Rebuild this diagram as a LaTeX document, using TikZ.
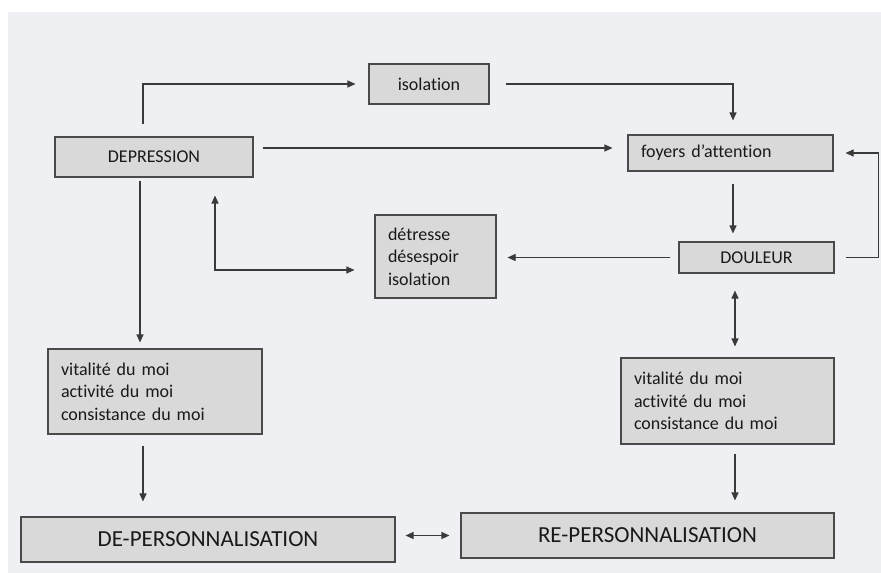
\documentclass[tikz,border=0pt]{standalone}
\usepackage{fontspec}
\setmainfont{Carlito}[Ligatures={TeX,NoCommon}]
\usetikzlibrary{arrows.meta,positioning,calc}
\definecolor{paper}{HTML}{EEF0F3}
\definecolor{boxfill}{HTML}{D9D9D9}
\definecolor{boxline}{HTML}{4A4A4A}
\definecolor{arrline}{HTML}{3A3A3A}

\begin{document}
\begin{tikzpicture}[x=1pt,y=-1pt,
  box/.style={draw=boxline,fill=boxfill,line width=1.1pt,inner sep=0pt,text=black!90,font=\fontsize{18}{22.5}\selectfont},
  lbox/.style={box,align=left,inner xsep=13pt},
  bigbox/.style={box,font=\fontsize{23}{28}\selectfont},
  arr/.style={draw=arrline,line width=1.1pt,-{Triangle[length=8pt,width=7pt]}},
  darr/.style={arr,{Triangle[length=8pt,width=7pt]}-{Triangle[length=8pt,width=7pt]}}]
\useasboundingbox (0,0) rectangle (881,573);
\fill[paper] (8,12) rectangle (881,573);

\node[box,minimum width=198pt,minimum height=40pt] (dep) at (154,157) {DEPRESSION};
\node[box,minimum width=120pt,minimum height=40pt] (iso) at (429,84) {isolation};
\node[lbox,text width=179pt,minimum height=36pt] (foy) at (730.5,153) {foyers d’attention};
\node[box,minimum width=155pt,minimum height=31pt] (dou) at (756.5,257.5) {DOULEUR};
\node[lbox,text width=95pt,minimum height=83pt] (det) at (435.5,256.5) {détresse\\désespoir\\isolation};
\node[lbox,text width=188pt,minimum height=85pt] (vitl) at (155,391.5) {vitalité du moi\\activité du moi\\consistance du moi};
\node[lbox,text width=187pt,minimum height=86pt] (vitr) at (727.5,401) {vitalité du moi\\activité du moi\\consistance du moi};
\node[bigbox,minimum width=374pt,minimum height=45pt] (depers) at (208,539.5) {DE-PERSONNALISATION};
\node[bigbox,minimum width=373pt,minimum height=45pt] (repers) at (647.5,535.5) {RE-PERSONNALISATION};

\draw[arr,shorten <=12pt,shorten >=13pt] ([xshift=-11pt]dep.north) |- (iso.west);
\draw[arr,shorten <=16pt,shorten >=14pt] (iso.east) -| ([xshift=2.5pt]foy.north);
\draw[arr,shorten <=9pt,shorten >=15pt] ([yshift=9pt]dep.east) -- ([yshift=9pt]dep.east -| foy.west);
\draw[arr,shorten <=12pt,shorten >=8pt] ([xshift=2.5pt]foy.south) -- ([xshift=2.5pt]foy.south |- dou.north);
\draw[arr,shorten <=11pt,shorten >=12pt] (dou.east) -- ++(44,0) |- (foy.east);
\draw[arr,shorten <=8pt,shorten >=11pt] (dou.west) -- (dou.west -| det.east);
\draw[darr,shorten <=20pt,shorten >=18pt] ([yshift=-13.5pt]det.west) -| ([xshift=61pt]dep.south);
\draw[arr,shorten <=3pt,shorten >=6pt] ([xshift=-14pt]dep.south) -- ([xshift=-14pt]dep.south |- vitl.north);
\draw[darr,shorten <=17pt,shorten >=11pt] ([xshift=-21.5pt]dou.south) -- ([xshift=-21.5pt]dou.south |- vitr.north);
\draw[arr,shorten <=11pt,shorten >=15pt] ([xshift=-12pt]vitl.south) -- ([xshift=-12pt]vitl.south |- depers.north);
\draw[arr,shorten <=9pt,shorten >=12pt] ([xshift=7.5pt]vitr.south) -- ([xshift=7.5pt]vitr.south |- repers.north);
\draw[darr,shorten <=10pt,shorten >=11pt] (depers.east |- repers.west) -- (repers.west);
\end{tikzpicture}
\end{document}
